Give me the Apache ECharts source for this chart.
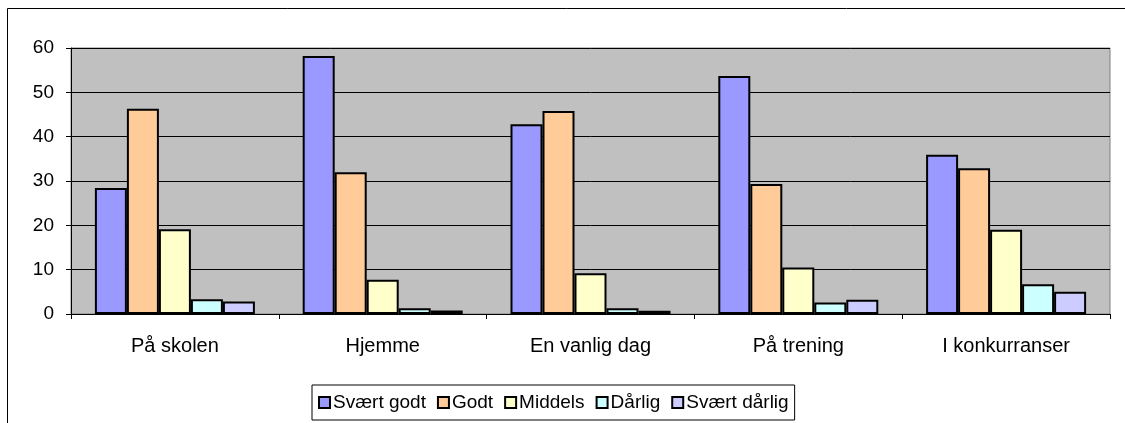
<!DOCTYPE html>
<html>
<head>
<meta charset="utf-8">
<script src="https://cdn.jsdelivr.net/npm/echarts@6/dist/echarts.min.js"></script>
<style>
  html, body { margin: 0; padding: 0; background: #fff; }
  #chart { width: 1125px; height: 423px; }
</style>
</head>
<body>
<div id="chart"></div>
<script>
// categories along the x axis
var categories = ["På skolen", "Hjemme", "En vanlig dag", "På trening", "I konkurranser"];
var yTicks = [0, 10, 20, 30, 40, 50, 60];

// one array per series (percent)
var svaertGodt = [28.4, 58.2, 42.8, 53.7, 35.9];
var godt = [46.3, 32.0, 45.8, 29.3, 32.9];
var middels = [19.1, 7.7, 9.2, 10.5, 19.0];
var darlig = [3.3, 1.3, 1.3, 2.6, 6.7];
var svaertDarlig = [2.8, 0.8, 0.75, 3.2, 5.0];

var seriesNames = ["Svært godt", "Godt", "Middels", "Dårlig", "Svært dårlig"];
var seriesData = [svaertGodt, godt, middels, darlig, svaertDarlig];
var colors = ["#9999FF", "#FFCC99", "#FFFFCC", "#CCFFFF", "#CCCCFF"];

var chart = echarts.init(document.getElementById("chart"));

var series = seriesNames.map(function (name, i) {
  return {
    name: name,
    type: "bar",
    data: seriesData[i],
    barGap: "0%",
    barCategoryGap: "23%",
    itemStyle: {
      color: colors[i],
      borderColor: "#000",
      borderWidth: 2
    },
    emphasis: { disabled: true }
  };
});

chart.setOption({
  animation: false,
  textStyle: { fontFamily: "Liberation Sans, Arial, sans-serif" },
  graphic: [
    {
      type: "rect",
      shape: { x: 7.5, y: 8.5, width: 1130, height: 430 },
      style: { fill: "none", stroke: "#000", lineWidth: 1 },
      z: -1
    }
  ],
  grid: {
    left: 71,
    right: 15,
    top: 48,
    bottom: 109,
    show: true,
    backgroundColor: "#C0C0C0",
    borderColor: "#808080",
    borderWidth: 1
  },
  legend: {
    data: seriesNames,
    left: 312,
    top: 385,
    icon: "rect",
    itemWidth: 11,
    itemHeight: 11,
    itemGap: 11,
    padding: [8, 6, 8, 6],
    borderColor: "#000",
    borderWidth: 1,
    itemStyle: { borderColor: "#000", borderWidth: 2 },
    textStyle: { fontSize: 19, color: "#000", padding: [0, 0, 0, -2] }
  },
  xAxis: {
    type: "category",
    data: categories,
    axisLine: { lineStyle: { color: "#000", width: 1 } },
    axisTick: { show: true, length: 5, inside: false, lineStyle: { color: "#000" } },
    axisLabel: { fontSize: 20, color: "#000", margin: 22 },
    splitLine: { show: false }
  },
  yAxis: {
    type: "value",
    min: yTicks[0],
    max: yTicks[yTicks.length - 1],
    interval: 10,
    axisLine: { show: true, lineStyle: { color: "#000" } },
    axisTick: { show: true, length: 5, lineStyle: { color: "#000" } },
    axisLabel: { fontSize: 19, color: "#000", margin: 17 },
    splitLine: { show: true, lineStyle: { color: "#000", width: 1 } }
  },
  series: series
});
</script>
</body>
</html>
